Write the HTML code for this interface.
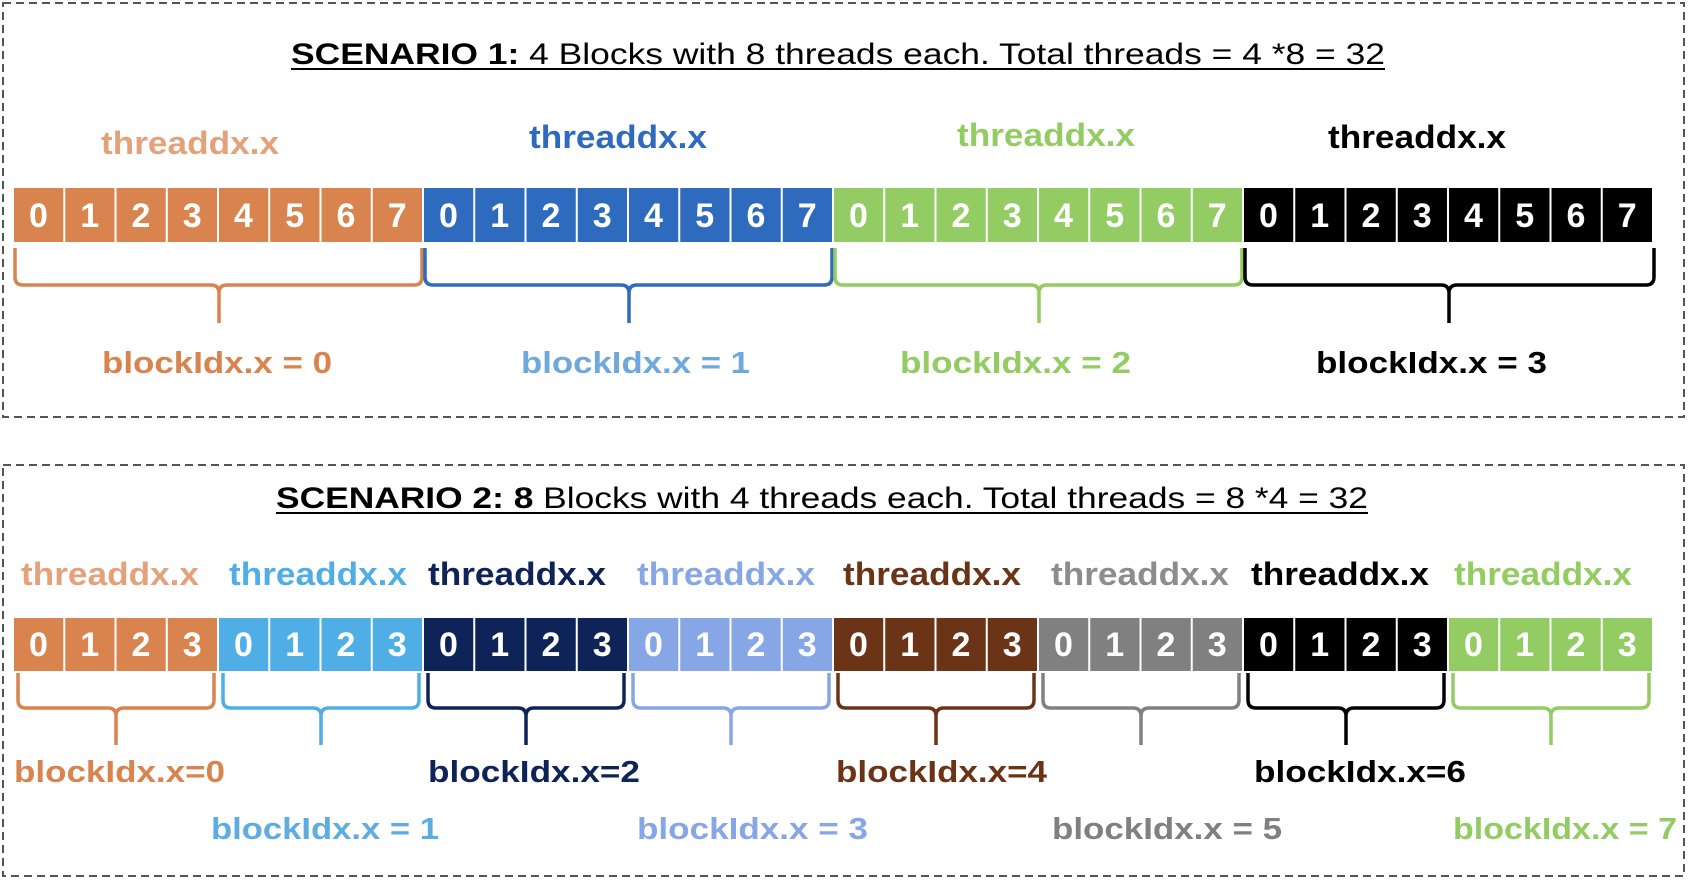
<!DOCTYPE html>
<html><head><meta charset="utf-8"><style>html,body{margin:0;padding:0;background:#fff}svg{display:block}</style></head>
<body>
<svg width="1688" height="880" viewBox="0 0 1688 880" xmlns="http://www.w3.org/2000/svg" font-family="Liberation Sans, Arial, sans-serif">
<rect x="3" y="3" width="1681" height="414" fill="none" stroke="#555" stroke-width="2" stroke-dasharray="8 5"/>
<rect x="3" y="465" width="1681" height="411" fill="none" stroke="#555" stroke-width="2" stroke-dasharray="8 5"/>

<text x="291" y="64" font-size="30" fill="#000" textLength="1094" lengthAdjust="spacingAndGlyphs"><tspan font-weight="bold">SCENARIO 1:</tspan> 4 Blocks with 8 threads each. Total threads = 4 *8 = 32</text>
<line x1="291" y1="69" x2="1385" y2="69" stroke="#000" stroke-width="2"/>
<text x="276" y="508" font-size="30" fill="#000" textLength="1092" lengthAdjust="spacingAndGlyphs"><tspan font-weight="bold">SCENARIO 2: 8</tspan> Blocks with 4 threads each. Total threads = 8 *4 = 32</text>
<line x1="276" y1="513" x2="1368" y2="513" stroke="#000" stroke-width="2"/>

<g font-weight="bold" font-size="32">
<text x="101" y="154" fill="#E3A27A" textLength="178" lengthAdjust="spacingAndGlyphs">threaddx.x</text>
<text x="529" y="148" fill="#2E6BBE" textLength="178" lengthAdjust="spacingAndGlyphs">threaddx.x</text>
<text x="957" y="146" fill="#92CC62" textLength="178" lengthAdjust="spacingAndGlyphs">threaddx.x</text>
<text x="1328" y="148" fill="#000" textLength="178" lengthAdjust="spacingAndGlyphs">threaddx.x</text>
</g>

<rect x="14" y="188" width="408" height="54" fill="#D9844F"/>
<rect x="424" y="188" width="408" height="54" fill="#2E6BBE"/>
<rect x="834" y="188" width="408" height="54" fill="#92CC62"/>
<rect x="1244" y="188" width="408" height="54" fill="#000"/>
<g stroke="#fff" stroke-width="2">
<line x1="64.25" y1="188" x2="64.25" y2="242"/><line x1="115.5" y1="188" x2="115.5" y2="242"/><line x1="166.75" y1="188" x2="166.75" y2="242"/><line x1="218" y1="188" x2="218" y2="242"/><line x1="269.25" y1="188" x2="269.25" y2="242"/><line x1="320.5" y1="188" x2="320.5" y2="242"/><line x1="371.75" y1="188" x2="371.75" y2="242"/>
<line x1="474.25" y1="188" x2="474.25" y2="242"/><line x1="525.5" y1="188" x2="525.5" y2="242"/><line x1="576.75" y1="188" x2="576.75" y2="242"/><line x1="628" y1="188" x2="628" y2="242"/><line x1="679.25" y1="188" x2="679.25" y2="242"/><line x1="730.5" y1="188" x2="730.5" y2="242"/><line x1="781.75" y1="188" x2="781.75" y2="242"/>
<line x1="884.25" y1="188" x2="884.25" y2="242"/><line x1="935.5" y1="188" x2="935.5" y2="242"/><line x1="986.75" y1="188" x2="986.75" y2="242"/><line x1="1038" y1="188" x2="1038" y2="242"/><line x1="1089.25" y1="188" x2="1089.25" y2="242"/><line x1="1140.5" y1="188" x2="1140.5" y2="242"/><line x1="1191.75" y1="188" x2="1191.75" y2="242"/>
<line x1="1294.25" y1="188" x2="1294.25" y2="242"/><line x1="1345.5" y1="188" x2="1345.5" y2="242"/><line x1="1396.75" y1="188" x2="1396.75" y2="242"/><line x1="1448" y1="188" x2="1448" y2="242"/><line x1="1499.25" y1="188" x2="1499.25" y2="242"/><line x1="1550.5" y1="188" x2="1550.5" y2="242"/><line x1="1601.75" y1="188" x2="1601.75" y2="242"/>
</g>
<g fill="#fff" font-weight="bold" font-size="34" text-anchor="middle">
<text x="38.5 89.75 141 192.25 243.5 294.75 346 397.25" y="227">01234567</text>
<text x="448.5 499.75 551 602.25 653.5 704.75 756 807.25" y="227">01234567</text>
<text x="858.5 909.75 961 1012.25 1063.5 1114.75 1166 1217.25" y="227">01234567</text>
<text x="1268.5 1319.75 1371 1422.25 1473.5 1524.75 1576 1627.25" y="227">01234567</text>
</g>

<g fill="none" stroke-width="3.5">
<path stroke="#D9844F" d="M15,248 V277 Q15,285 23,285 H211 Q219,285 219,293 V323 M422,248 V277 Q422,285 414,285 H227 Q219,285 219,293"/>
<path stroke="#2E6BBE" d="M425,248 V277 Q425,285 433,285 H621 Q629,285 629,293 V323 M832,248 V277 Q832,285 824,285 H637 Q629,285 629,293"/>
<path stroke="#92CC62" d="M835,248 V277 Q835,285 843,285 H1031 Q1039,285 1039,293 V323 M1242,248 V277 Q1242,285 1234,285 H1047 Q1039,285 1039,293"/>
<path stroke="#000" d="M1245,248 V277 Q1245,285 1253,285 H1441 Q1449,285 1449,293 V323 M1654,248 V277 Q1654,285 1646,285 H1457 Q1449,285 1449,293"/>
</g>

<g font-weight="bold" font-size="31">
<text x="102" y="373" fill="#D9844F" textLength="230" lengthAdjust="spacingAndGlyphs">blockIdx.x = 0</text>
<text x="521" y="373" fill="#6FA8DC" textLength="229" lengthAdjust="spacingAndGlyphs">blockIdx.x = 1</text>
<text x="900" y="373" fill="#92CC62" textLength="231" lengthAdjust="spacingAndGlyphs">blockIdx.x = 2</text>
<text x="1316" y="373" fill="#000" textLength="231" lengthAdjust="spacingAndGlyphs">blockIdx.x = 3</text>
</g>

<g font-weight="bold" font-size="32">
<text x="21" y="585" fill="#E3A27A" textLength="178" lengthAdjust="spacingAndGlyphs">threaddx.x</text>
<text x="229" y="585" fill="#4FAEE6" textLength="178" lengthAdjust="spacingAndGlyphs">threaddx.x</text>
<text x="428" y="585" fill="#0E2459" textLength="178" lengthAdjust="spacingAndGlyphs">threaddx.x</text>
<text x="637" y="585" fill="#86A6E6" textLength="178" lengthAdjust="spacingAndGlyphs">threaddx.x</text>
<text x="843" y="585" fill="#6B3417" textLength="178" lengthAdjust="spacingAndGlyphs">threaddx.x</text>
<text x="1051" y="585" fill="#8C8C8C" textLength="178" lengthAdjust="spacingAndGlyphs">threaddx.x</text>
<text x="1251" y="585" fill="#000" textLength="178" lengthAdjust="spacingAndGlyphs">threaddx.x</text>
<text x="1454" y="585" fill="#92CC62" textLength="178" lengthAdjust="spacingAndGlyphs">threaddx.x</text>
</g>

<rect x="14" y="618" width="203" height="53" fill="#D9844F"/>
<rect x="219" y="618" width="203" height="53" fill="#4FAEE6"/>
<rect x="424" y="618" width="203" height="53" fill="#0E2459"/>
<rect x="629" y="618" width="203" height="53" fill="#86A6E6"/>
<rect x="834" y="618" width="203" height="53" fill="#6B3417"/>
<rect x="1039" y="618" width="203" height="53" fill="#808080"/>
<rect x="1244" y="618" width="203" height="53" fill="#000"/>
<rect x="1449" y="618" width="203" height="53" fill="#92CC62"/>
<g stroke="#fff" stroke-width="2">
<line x1="64.25" y1="618" x2="64.25" y2="671"/><line x1="115.5" y1="618" x2="115.5" y2="671"/><line x1="166.75" y1="618" x2="166.75" y2="671"/>
<line x1="269.25" y1="618" x2="269.25" y2="671"/><line x1="320.5" y1="618" x2="320.5" y2="671"/><line x1="371.75" y1="618" x2="371.75" y2="671"/>
<line x1="474.25" y1="618" x2="474.25" y2="671"/><line x1="525.5" y1="618" x2="525.5" y2="671"/><line x1="576.75" y1="618" x2="576.75" y2="671"/>
<line x1="679.25" y1="618" x2="679.25" y2="671"/><line x1="730.5" y1="618" x2="730.5" y2="671"/><line x1="781.75" y1="618" x2="781.75" y2="671"/>
<line x1="884.25" y1="618" x2="884.25" y2="671"/><line x1="935.5" y1="618" x2="935.5" y2="671"/><line x1="986.75" y1="618" x2="986.75" y2="671"/>
<line x1="1089.25" y1="618" x2="1089.25" y2="671"/><line x1="1140.5" y1="618" x2="1140.5" y2="671"/><line x1="1191.75" y1="618" x2="1191.75" y2="671"/>
<line x1="1294.25" y1="618" x2="1294.25" y2="671"/><line x1="1345.5" y1="618" x2="1345.5" y2="671"/><line x1="1396.75" y1="618" x2="1396.75" y2="671"/>
<line x1="1499.25" y1="618" x2="1499.25" y2="671"/><line x1="1550.5" y1="618" x2="1550.5" y2="671"/><line x1="1601.75" y1="618" x2="1601.75" y2="671"/>
</g>
<g fill="#fff" font-weight="bold" font-size="34" text-anchor="middle">
<text x="38.5 89.75 141 192.25" y="656">0123</text>
<text x="243.5 294.75 346 397.25" y="656">0123</text>
<text x="448.5 499.75 551 602.25" y="656">0123</text>
<text x="653.5 704.75 756 807.25" y="656">0123</text>
<text x="858.5 909.75 961 1012.25" y="656">0123</text>
<text x="1063.5 1114.75 1166 1217.25" y="656">0123</text>
<text x="1268.5 1319.75 1371 1422.25" y="656">0123</text>
<text x="1473.5 1524.75 1576 1627.25" y="656">0123</text>
</g>

<g fill="none" stroke-width="3.5">
<path stroke="#D9844F" d="M18,673 V700 Q18,708 26,708 H108 Q116,708 116,716 V745 M214,673 V700 Q214,708 206,708 H124 Q116,708 116,716"/>
<path stroke="#4FAEE6" d="M223,673 V700 Q223,708 231,708 H313 Q321,708 321,716 V745 M419,673 V700 Q419,708 411,708 H329 Q321,708 321,716"/>
<path stroke="#0E2459" d="M428,673 V700 Q428,708 436,708 H518 Q526,708 526,716 V745 M624,673 V700 Q624,708 616,708 H534 Q526,708 526,716"/>
<path stroke="#86A6E6" d="M633,673 V700 Q633,708 641,708 H723 Q731,708 731,716 V745 M829,673 V700 Q829,708 821,708 H739 Q731,708 731,716"/>
<path stroke="#6B3417" d="M838,673 V700 Q838,708 846,708 H928 Q936,708 936,716 V745 M1034,673 V700 Q1034,708 1026,708 H944 Q936,708 936,716"/>
<path stroke="#808080" d="M1043,673 V700 Q1043,708 1051,708 H1133 Q1141,708 1141,716 V745 M1239,673 V700 Q1239,708 1231,708 H1149 Q1141,708 1141,716"/>
<path stroke="#000" d="M1248,673 V700 Q1248,708 1256,708 H1338 Q1346,708 1346,716 V745 M1444,673 V700 Q1444,708 1436,708 H1354 Q1346,708 1346,716"/>
<path stroke="#92CC62" d="M1453,673 V700 Q1453,708 1461,708 H1543 Q1551,708 1551,716 V745 M1649,673 V700 Q1649,708 1641,708 H1559 Q1551,708 1551,716"/>
</g>

<g font-weight="bold" font-size="31">
<text x="14" y="782" fill="#D9844F" textLength="211" lengthAdjust="spacingAndGlyphs">blockIdx.x=0</text>
<text x="428" y="782" fill="#0E2459" textLength="212" lengthAdjust="spacingAndGlyphs">blockIdx.x=2</text>
<text x="836" y="782" fill="#6B3417" textLength="211" lengthAdjust="spacingAndGlyphs">blockIdx.x=4</text>
<text x="1254" y="782" fill="#000" textLength="212" lengthAdjust="spacingAndGlyphs">blockIdx.x=6</text>
<text x="211" y="839" fill="#5DADE2" textLength="228" lengthAdjust="spacingAndGlyphs">blockIdx.x = 1</text>
<text x="637" y="839" fill="#86A6E6" textLength="231" lengthAdjust="spacingAndGlyphs">blockIdx.x = 3</text>
<text x="1052" y="839" fill="#808080" textLength="230" lengthAdjust="spacingAndGlyphs">blockIdx.x = 5</text>
<text x="1453" y="839" fill="#92CC62" textLength="224" lengthAdjust="spacingAndGlyphs">blockIdx.x = 7</text>
</g>
</svg>
</body></html>
